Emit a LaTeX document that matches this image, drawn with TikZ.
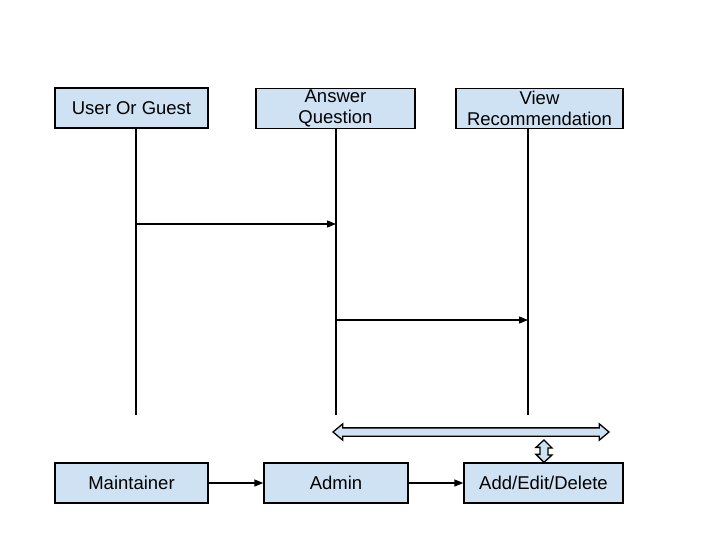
\documentclass[tikz,border=0pt]{standalone}
\usepackage{fontspec}
\setmainfont{Liberation Sans}
\usetikzlibrary{arrows.meta,shapes.arrows}
\definecolor{boxBlue}{HTML}{CFE2F3}
\tikzset{
  actbox/.style={draw=black,fill=boxBlue,line width=1.3pt,inner sep=0pt,align=center,
    font=\fontsize{18.5}{21}\selectfont},
  msg/.style={line width=1.3pt,-{Triangle[length=9pt,width=7pt]}},
  lifeline/.style={line width=1.3pt},
  fatarrow/.style={double arrow,draw=black,fill=boxBlue,line width=1.3pt,inner xsep=0pt,
    inner ysep=3.5pt,double arrow head extend=4pt,double arrow tip angle=80},
  fatlink/.style={draw=black,fill=boxBlue,line width=1.3pt,line join=miter}
}

\begin{document}
\begin{tikzpicture}[x=1pt,y=-1pt]
  \useasboundingbox (0,0) rectangle (720,540);
  % top row
  \node[actbox,minimum width=153pt,minimum height=40pt] (user) at (131.5,108) {User Or Guest};
  \node[actbox,minimum width=159pt,minimum height=40pt] (answer) at (335.5,108.5) {Answer\\Question};
  \node[actbox,minimum width=167pt,minimum height=40pt] (view) at (539.5,108.5) {View\\Recommendation};
  % lifelines
  \coordinate (userEnd) at (136,415);
  \coordinate (answerEnd) at (336,415);
  \coordinate (viewEnd) at (528,415);
  \draw[lifeline] (userEnd |- user.south) -- (userEnd);
  \draw[lifeline] (answerEnd |- answer.south) -- (answerEnd);
  \draw[lifeline] (viewEnd |- view.south) -- (viewEnd);
  % messages
  \coordinate (msgA) at (0,224);
  \coordinate (msgB) at (0,320);
  \draw[msg] (userEnd |- msgA) -- (answerEnd |- msgA);
  \draw[msg] (answerEnd |- msgB) -- (viewEnd |- msgB);
  % bottom row
  \node[actbox,minimum width=153pt,minimum height=40pt] (maint) at (131.5,483) {Maintainer};
  \node[actbox,minimum width=144pt,minimum height=40pt] (admin) at (336,483) {Admin};
  \node[actbox,minimum width=159pt,minimum height=40pt] (edit) at (543.5,483) {Add/Edit/Delete};
  \draw[msg] (maint) -- (admin);
  \draw[msg] (admin) -- (edit);
  % wide double arrow and short link down to the box
  \node[fatarrow,minimum height=276pt] (span) at (471,432) {};
  \coordinate (linkTop) at (544,440);
  \draw[fatlink] (edit.north -| linkTop) -- ++(-8,-8) -- ++(4,0) -- ++(0,-7) -- ++(-4,0)
    -- (linkTop) -- ++(8,8) -- ++(-4,0) -- ++(0,7) -- ++(4,0) -- cycle;
\end{tikzpicture}
\end{document}
